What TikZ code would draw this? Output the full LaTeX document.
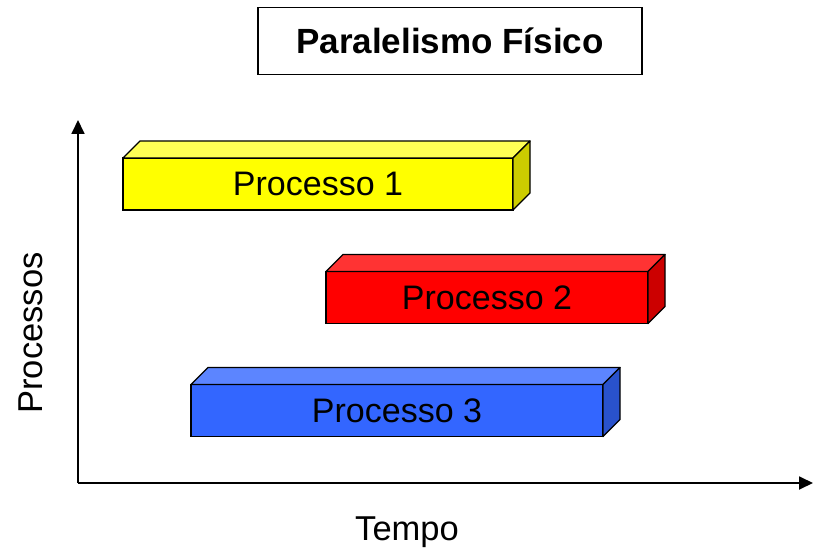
\documentclass[tikz,border=0pt]{standalone}
\usepackage{fontspec}
\setmainfont{Liberation Sans}
\usetikzlibrary{arrows.meta,calc}
\definecolor{yfront}{HTML}{FFFF00}
\definecolor{ytop}{HTML}{FFFF55}
\definecolor{yside}{HTML}{CCCC00}
\definecolor{rfront}{HTML}{FF0000}
\definecolor{rtop}{HTML}{FF3333}
\definecolor{rside}{HTML}{CC0000}
\definecolor{bfront}{HTML}{3366FF}
\definecolor{btop}{HTML}{5C85FF}
\definecolor{bside}{HTML}{2952CC}
\tikzset{
  procbox/.style={draw=black, line width=1.3pt, inner sep=0pt, outer sep=0pt,
    minimum height=52pt, font=\fontsize{34}{38}\selectfont},
  face/.style={draw=black, line width=1.3pt, line join=round},
  axis/.style={line width=1.8pt, -{Triangle[length=14pt,width=13pt]}},
  lbl/.style={font=\fontsize{34.5}{38}\selectfont},
}
\begin{document}
\begin{tikzpicture}[x=1pt,y=1pt]
\useasboundingbox (0,0) rectangle (813,-556);
% title
\node[draw=black, line width=1.3pt, minimum width=384pt, minimum height=67pt, inner sep=0pt,
  font=\bfseries\fontsize{35}{38}\selectfont] (title) at (450,-41) {Paralelismo Físico};
% axes
\coordinate (o) at (78,-483);
\coordinate (ytip) at (78,-120);
\coordinate (xtip) at (813,-483);
\draw[axis] (o) -- (ytip);
\draw[axis] (o) -- (xtip);
\node[lbl] (tempo) at (407,-532) {Tempo};
\node[lbl, rotate=90] (procs) at (31,-333) {Processos};
% boxes
\foreach \nm/\cx/\cy/\w/\cf/\ct/\cs/\txt in {
  p1/318/-184/390/yfront/ytop/yside/Processo 1,
  p2/487/-297.5/322/rfront/rtop/rside/Processo 2,
  p3/397/-410.5/412/bfront/btop/bside/Processo 3}{
  \node[procbox, fill=\cf, minimum width=\w pt] (\nm) at (\cx,\cy) {\txt};
  \draw[face, fill=\ct] (\nm.north west) -- ++(17,17) -- ($(\nm.north east)+(17,17)$) -- (\nm.north east) -- cycle;
  \draw[face, fill=\cs] (\nm.north east) -- ++(17,17) -- ($(\nm.south east)+(17,17)$) -- (\nm.south east) -- cycle;
}
\end{tikzpicture}
\end{document}
